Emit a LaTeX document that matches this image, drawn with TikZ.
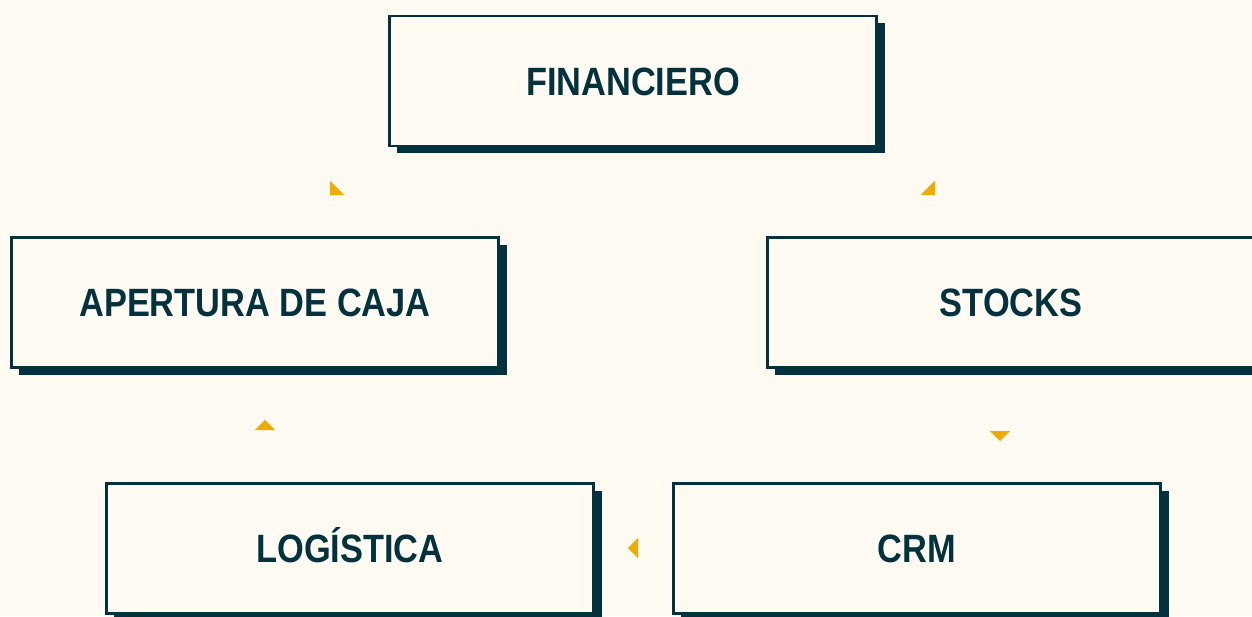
\documentclass[tikz,border=0pt]{standalone}
\usepackage{fontspec}
\setmainfont{Liberation Sans}[FakeStretch=0.87]
\usetikzlibrary{arrows.meta,calc}
\definecolor{bgc}{RGB}{255,251,243}
\definecolor{dark}{RGB}{2,50,61}
\definecolor{gold}{RGB}{240,170,0}
\tikzset{
  shadowbox/.style={fill=dark, draw=none},
  box/.style={draw=dark, line width=2.8pt, fill=bgc, minimum width=487pt, minimum height=130pt,
    inner sep=0pt, text=dark, font=\fontsize{39.5}{44}\selectfont\bfseries,
    text height=28pt, text depth=0pt},
  conn/.style={draw=bgc, line width=0.1pt, shorten <=12pt,
    -{Triangle[length=10pt,width=20pt,color=gold]}}
}
\newcommand{\shadowed}[3]{%
  \fill[shadowbox] ($(#2)+(-243.5+7,-65-7)$) rectangle ($(#2)+(243.5+8,65-7)$);
  \node[box] (#1) at (#2) {#3};}
\begin{document}
\begin{tikzpicture}[x=1pt,y=1pt]
\useasboundingbox (0,0) rectangle (1252,-616);
\fill[bgc] (0,0) rectangle (1252,-616);
\clip (0,0) rectangle (1252,-616);
\shadowed{fin}{633,-81}{FINANCIERO}
\shadowed{caja}{255,-302.5}{APERTURA DE CAJA}
\shadowed{stocks}{1011,-302.5}{STOCKS}
\shadowed{log}{350,-548.5}{LOGÍSTICA}
\shadowed{crm}{917,-548.5}{CRM}
\coordinate (t1) at (330,-195);
\coordinate (t2) at (935,-195);
\coordinate (t3) at (265,-420);
\coordinate (t4) at (1000,-441);
\coordinate (t5) at (628,-548);
\draw[conn] (fin.south west) to[out=225,in=45] (t1);
\draw[conn] (fin.south east) to[out=-45,in=135] (t2);
\draw[conn] (log.north) to[out=90,in=-90] (t3);
\draw[conn] (stocks.south) to[out=-90,in=90] (t4);
\draw[conn] (crm.west) to[out=180,in=0] (t5);
\end{tikzpicture}
\end{document}
